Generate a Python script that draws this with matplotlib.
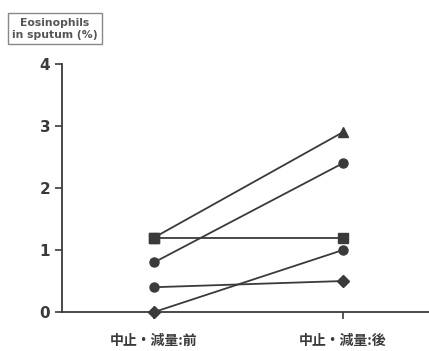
import matplotlib.pyplot as plt

# sputum eosinophils (%) before / after stopping or tapering
periods = ["中止・減量:前", "中止・減量:後"]
before = [1.2, 1.2, 0.8, 0.4, 0.0]
after = [2.9, 1.2, 2.4, 0.5, 1.0]
markers_before = ["s", "s", "o", "o", "D"]
markers_after = ["^", "s", "o", "D", "o"]
y_ticks = [0, 1, 2, 3, 4]

ink = "#3a3a3a"
plt.rcParams["font.family"] = ["Noto Sans CJK JP", "DejaVu Sans"]

fig = plt.figure(figsize=(4.29, 3.51), dpi=100)
ax = fig.add_axes([0.1445, 0.111, 0.8555, 0.707])

for b, a, mb, ma in zip(before, after, markers_before, markers_after):
    ax.plot([0, 1], [b, a], color=ink, lw=1.3, zorder=2)
    ax.plot(0, b, marker=mb, color=ink, ms=6.5 if mb != "D" else 6, zorder=3, clip_on=False)
    ax.plot(1, a, marker=ma, color=ink, ms=6.5 if ma != "D" else 6, zorder=3, clip_on=False)

ax.set_xlim(-0.487, 1.455)
ax.set_ylim(0, 4)
ax.set_xticks([0, 1])
ax.set_xticklabels(periods, fontsize=10, fontweight="bold", color=ink)
ax.set_yticks(y_ticks)
ax.set_yticklabels([str(t) for t in y_ticks], fontsize=11, fontweight="bold", color=ink,
                   family="DejaVu Sans")
ax.tick_params(axis="both", color=ink, width=1.2, length=5)
ax.tick_params(axis="x", pad=11)

for side in ["top", "right"]:
    ax.spines[side].set_visible(False)
for side in ["left", "bottom"]:
    ax.spines[side].set_color(ink)
    ax.spines[side].set_linewidth(1.3)

fig.text(0.128, 0.918, "Eosinophils\nin sputum (%)", ha="center", va="center",
         fontsize=7.8, fontweight="bold", color="#555555", family="DejaVu Sans",
         linespacing=1.3,
         bbox=dict(boxstyle="square,pad=0.4", fc="white", ec="#888888", lw=1.0))

fig.savefig("out.png", dpi=100)
